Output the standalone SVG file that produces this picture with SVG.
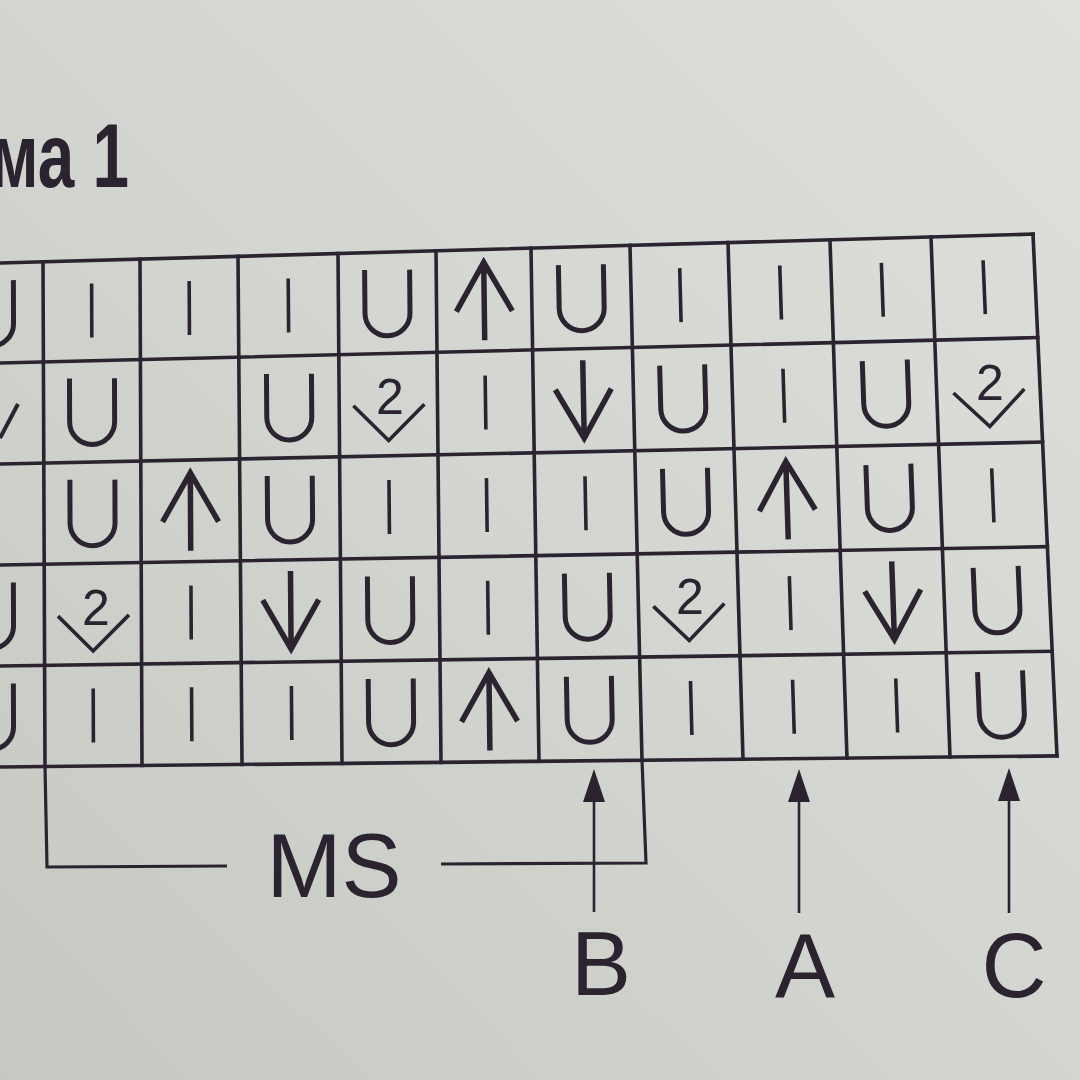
<svg xmlns="http://www.w3.org/2000/svg" width="1080" height="1080" viewBox="0 0 1080 1080">
<defs>
<linearGradient id="bg" x1="1" y1="0" x2="0" y2="1">
<stop offset="0" stop-color="#dde0db"/>
<stop offset="0.5" stop-color="#d3d6d0"/>
<stop offset="1" stop-color="#c6c9c2"/>
</linearGradient>
<path id="u" d="M-22.5,-33 V10.5 A22.5,22.5 0 0 0 22.5,10.5 V-33" fill="none" stroke="#2b2430" stroke-width="5"/>
<path id="i" d="M0,-27 V27" fill="none" stroke="#2b2430" stroke-width="3.6"/>
<path id="up" d="M0,-38 V40 M-28,11 L0,-38 L28,11" fill="none" stroke="#2b2430" stroke-width="5.5" stroke-miterlimit="10"/>
<path id="dn" d="M0,38 V-40 M-28,-11 L0,38 L28,-11" fill="none" stroke="#2b2430" stroke-width="5.5" stroke-miterlimit="10"/>
<path id="v" d="M-35,0 L0,35 L36,-1" fill="none" stroke="#2b2430" stroke-width="3.6"/>
<marker id="ah" markerUnits="userSpaceOnUse" markerWidth="34" markerHeight="24" refX="22" refY="11" orient="auto">
<path d="M0,0 L33,11 L0,22 z" fill="#2b2430"/>
</marker>
</defs>
<style>
.grid line{stroke:#2b2430;stroke-width:3.6;stroke-linecap:square}
.br{fill:none;stroke:#2b2430;stroke-width:3.2}
.ar{stroke:#2b2430;stroke-width:2.6;marker-end:url(#ah)}
.lbl{font-family:"Liberation Sans",Arial,sans-serif;font-size:90px;fill:#2b2430;text-anchor:middle}
.two{font-family:"Liberation Sans",Arial,sans-serif;font-size:50px;fill:#2b2430;text-anchor:middle}
.title{font-family:"Liberation Sans",Arial,sans-serif;font-size:90px;font-weight:bold;fill:#2b2430}
</style>
<rect width="1080" height="1080" fill="url(#bg)"/>

<g id="title">
<text class="title" x="-10" y="187" textLength="139" lengthAdjust="spacingAndGlyphs">ма 1</text>
</g>

<g id="grid" class="grid">
<line x1="0" y1="263" x2="1033" y2="234.1"/>
<line x1="0" y1="363" x2="1037.8" y2="337.6"/>
<line x1="0" y1="464" x2="1042.6" y2="442.1"/>
<line x1="0" y1="565" x2="1047.4" y2="546.7"/>
<line x1="0" y1="666" x2="1052.2" y2="651.3"/>
<line x1="0" y1="767" x2="1057" y2="755.9"/>
<line x1="43" y1="261.8" x2="45" y2="766.5"/>
<line x1="140" y1="259.1" x2="142" y2="765.5"/>
<line x1="238" y1="256.3" x2="242" y2="764.5"/>
<line x1="338" y1="253.5" x2="342" y2="763.4"/>
<line x1="436" y1="250.8" x2="441" y2="762.4"/>
<line x1="531" y1="248.1" x2="539" y2="761.3"/>
<line x1="630" y1="245.4" x2="642" y2="760.3"/>
<line x1="728" y1="242.6" x2="743" y2="759.2"/>
<line x1="830" y1="239.8" x2="847" y2="758.1"/>
<line x1="931" y1="236.9" x2="950" y2="757"/>
<line x1="1033" y1="234.1" x2="1057" y2="755.9"/>
</g>

<g id="row1">
<use href="#u" transform="translate(-9,313.2) rotate(-0.2)"/>
<use href="#i" transform="translate(91.7,310.6) rotate(-0.2)"/>
<use href="#i" transform="translate(189.3,308) rotate(-0.3)"/>
<use href="#i" transform="translate(288.4,305.4) rotate(-0.45)"/>
<use href="#u" transform="translate(387.4,302.8) rotate(-0.5)"/>
<use href="#up" transform="translate(484.2,300.3) rotate(-0.75)"/>
<use href="#u" transform="translate(581.5,297.7) rotate(-1.1)"/>
<use href="#i" transform="translate(680.4,295.1) rotate(-1.5)"/>
<use href="#i" transform="translate(780.6,292.5) rotate(-1.8)"/>
<use href="#i" transform="translate(882.3,289.8) rotate(-2)"/>
<use href="#i" transform="translate(984.2,287.2) rotate(-2.4)"/>
</g>

<g id="row2">
<line x1="0" y1="438" x2="18" y2="404" stroke="#2b2430" stroke-width="4"/>
<use href="#u" transform="translate(92.1,411.4) rotate(-0.2)"/>
<use href="#u" transform="translate(289.2,406.9) rotate(-0.45)"/>
<use href="#v" transform="translate(388.4,405.5) rotate(-0.5)"/>
<text class="two" x="390" y="414">2</text>
<use href="#i" transform="translate(485.5,402.5) rotate(-0.75)"/>
<use href="#dn" transform="translate(583.5,400.2) rotate(-1.1)"/>
<use href="#u" transform="translate(683,398) rotate(-1.5)"/>
<use href="#i" transform="translate(783.8,395.7) rotate(-1.8)"/>
<use href="#u" transform="translate(885.9,393.3) rotate(-2)"/>
<use href="#v" transform="translate(988.4,391.5) rotate(-2.4)"/>
<text class="two" x="990" y="400">2</text>
</g>

<g id="row3">
<use href="#u" transform="translate(92.5,512.7) rotate(-0.2)"/>
<use href="#up" transform="translate(190.5,510.8) rotate(-0.3)"/>
<use href="#u" transform="translate(290,508.9) rotate(-0.45)"/>
<use href="#i" transform="translate(389.2,507) rotate(-0.5)"/>
<use href="#i" transform="translate(486.8,505.1) rotate(-0.75)"/>
<use href="#i" transform="translate(585.5,503.2) rotate(-1.1)"/>
<use href="#u" transform="translate(685.8,501.3) rotate(-1.5)"/>
<use href="#up" transform="translate(787,499.4) rotate(-1.8)"/>
<use href="#u" transform="translate(889.5,497.4) rotate(-2)"/>
<use href="#i" transform="translate(992.8,495.4) rotate(-2.4)"/>
</g>

<g id="row4">
<use href="#u" transform="translate(-9,615.6) rotate(-0.2)"/>
<use href="#v" transform="translate(93,616) rotate(-0.2)"/>
<text class="two" x="96" y="625">2</text>
<use href="#i" transform="translate(191.1,612.5) rotate(-0.3)"/>
<use href="#dn" transform="translate(290.8,610.9) rotate(-0.45)"/>
<use href="#u" transform="translate(390.2,609.4) rotate(-0.5)"/>
<use href="#i" transform="translate(488,607.8) rotate(-0.75)"/>
<use href="#u" transform="translate(587.5,606.2) rotate(-1.1)"/>
<use href="#v" transform="translate(688.4,605.5) rotate(-1.5)"/>
<text class="two" x="690" y="614">2</text>
<use href="#i" transform="translate(790.2,603.1) rotate(-1.8)"/>
<use href="#dn" transform="translate(893.1,601.4) rotate(-2)"/>
<use href="#u" transform="translate(997,599.8) rotate(-2.4)"/>
</g>

<g id="row5">
<use href="#u" transform="translate(-9,716.6) rotate(-0.2)"/>
<use href="#i" transform="translate(93.3,715.4) rotate(-0.2)"/>
<use href="#i" transform="translate(191.7,714.2) rotate(-0.3)"/>
<use href="#i" transform="translate(291.6,712.9) rotate(-0.45)"/>
<use href="#u" transform="translate(391,711.7) rotate(-0.5)"/>
<use href="#up" transform="translate(489.4,710.5) rotate(-0.75)"/>
<use href="#u" transform="translate(589.5,709.3) rotate(-1.1)"/>
<use href="#i" transform="translate(691.2,708) rotate(-1.5)"/>
<use href="#i" transform="translate(793.4,706.8) rotate(-1.8)"/>
<use href="#i" transform="translate(896.7,705.5) rotate(-2)"/>
<use href="#u" transform="translate(1001.4,704.2) rotate(-2.4)"/>
</g>

<g id="connectors">
<polyline class="br" points="45,766 47,867 227,866"/>
<polyline class="br" points="441,864 646,863 642,760"/>
<line class="ar" x1="594" y1="912" x2="594" y2="780"/>
<line class="ar" x1="799" y1="913" x2="799" y2="780"/>
<line class="ar" x1="1009" y1="913" x2="1009" y2="779"/>
</g>

<g id="labels">
<text class="lbl" x="334" y="897">MS</text>
<text class="lbl" x="601" y="995">B</text>
<text class="lbl" x="805" y="997">A</text>
<text class="lbl" x="1014" y="997">C</text>
</g>
</svg>
